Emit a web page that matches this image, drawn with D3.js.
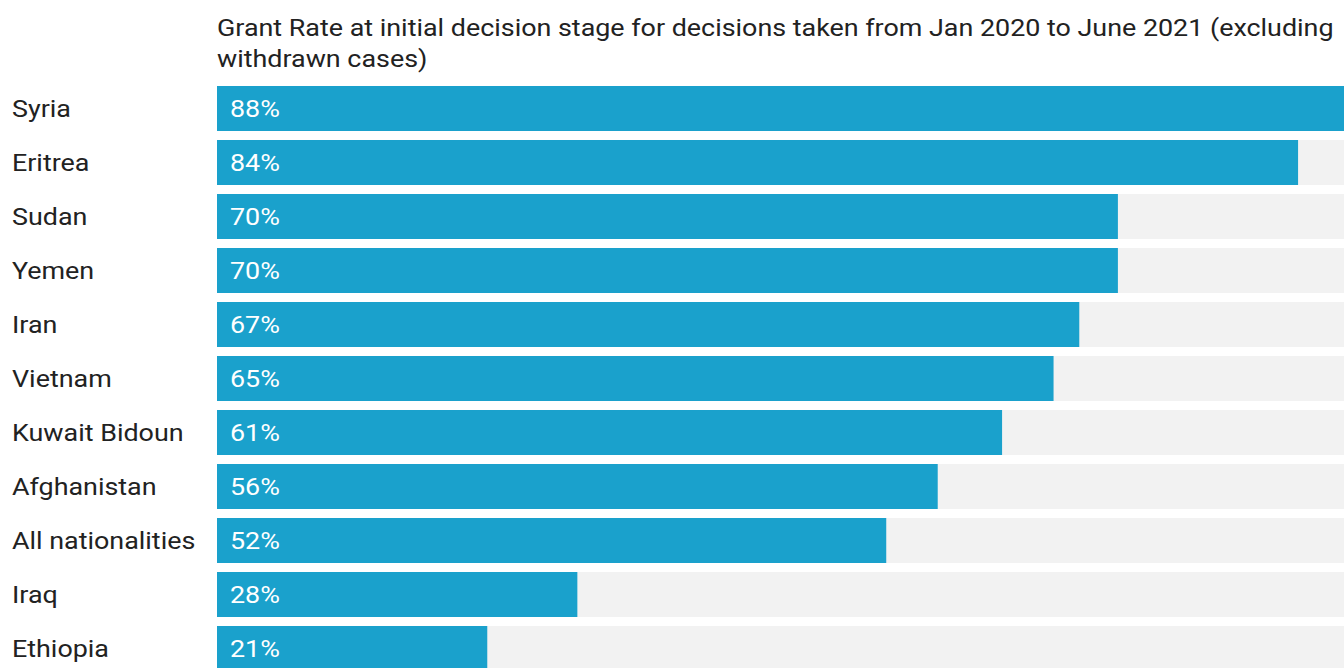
<!DOCTYPE html>
<html lang="en">
<head>
  <meta charset="UTF-8">
  <title>Grant rate</title>
  <script src="https://d3js.org/d3.v7.min.js"></script>
  <style>
    body { margin: 0; background: #fff; overflow: hidden; }
    svg { display: block; font-family: "Roboto", sans-serif; }
    .title { font-size: 24px; fill: #222; }
    .label { font-size: 24px; fill: #222; }
    .value { font-size: 24px; fill: #fff; }
  </style>
</head>
<body>
<div id="chart"></div>
<script>
  // data
  var countries = ["Syria", "Eritrea", "Sudan", "Yemen", "Iran", "Vietnam",
    "Kuwait Bidoun", "Afghanistan", "All nationalities", "Iraq", "Ethiopia"];
  var grantRates = [88, 84, 70, 70, 67, 65, 61, 56, 52, 28, 21];
  var titleLines = [
    "Grant Rate at initial decision stage for decisions taken from Jan 2020 to June 2021 (excluding",
    "withdrawn cases)"
  ];

  var width = 1344, height = 668;
  var marginLeft = 217, marginTop = 86, step = 54, gap = 9;
  var stretch = 1.12; // glyphs in the reference are a bit wider than plain Roboto

  var svg = d3.select("#chart").append("svg")
    .attr("width", width)
    .attr("height", height);

  var x = d3.scaleLinear()
    .domain([0, 100])
    .range([marginLeft, marginLeft + 1287]);

  var y = d3.scaleBand()
    .domain(countries)
    .range([marginTop, marginTop + step * countries.length - gap])
    .paddingInner(gap / step)
    .paddingOuter(0);

  function place(tx, ty) {
    return "translate(" + tx + "," + ty + ") scale(" + stretch + ",1)";
  }

  // title
  svg.append("g").selectAll("text")
    .data(titleLines)
    .join("text")
    .attr("class", "title")
    .attr("transform", function (d, i) { return place(marginLeft, 36 + i * 31); })
    .text(function (d) { return d; });

  var rows = svg.append("g").selectAll("g")
    .data(countries)
    .join("g");

  // grey track
  rows.append("rect")
    .attr("x", x(0))
    .attr("y", function (d) { return y(d); })
    .attr("width", x(100) - x(0))
    .attr("height", y.bandwidth())
    .attr("fill", "#f2f2f2");

  // bars
  rows.append("rect")
    .attr("x", x(0))
    .attr("y", function (d) { return y(d); })
    .attr("width", function (d, i) { return x(grantRates[i]) - x(0); })
    .attr("height", y.bandwidth())
    .attr("fill", "#1aa1cc");

  // country names
  rows.append("text")
    .attr("class", "label")
    .attr("transform", function (d) { return place(12, y(d) + y.bandwidth() / 2); })
    .attr("dy", "0.35em")
    .text(function (d) { return d; });

  // values inside bars
  rows.append("text")
    .attr("class", "value")
    .attr("transform", function (d) { return place(x(0) + 13, y(d) + y.bandwidth() / 2); })
    .attr("dy", "0.35em")
    .text(function (d, i) { return grantRates[i] + "%"; });
</script>
</body>
</html>
